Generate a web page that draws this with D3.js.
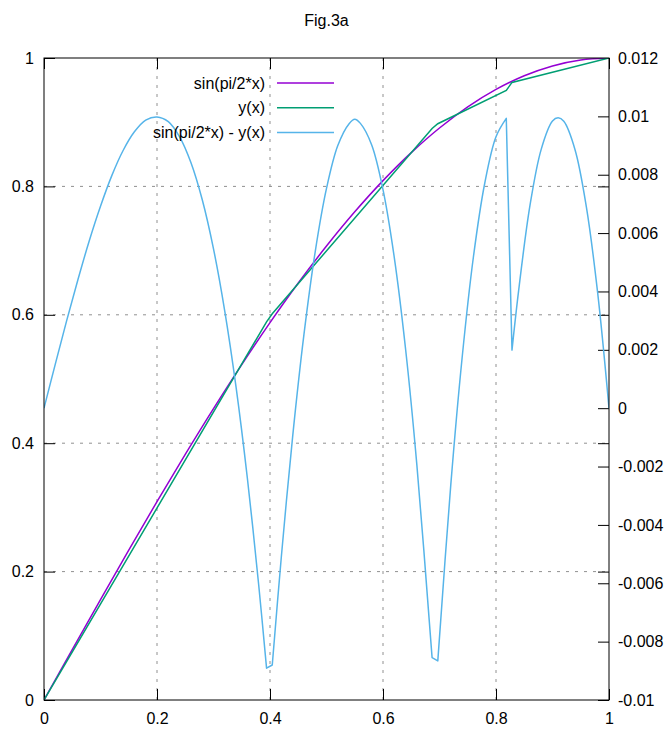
<meta charset="utf-8">

<!-- Load d3.js -->
<script src="https://d3js.org/d3.v7.min.js"></script>
<style>
  body { margin: 0; background: #fff; }
  text { font-family: "Liberation Sans", Arial, sans-serif; }
</style>

<div id="chart"></div>
<script>

// tick values
var xTicks  = [0, 0.2, 0.4, 0.6, 0.8, 1];
var yTicks  = [0, 0.2, 0.4, 0.6, 0.8, 1];
var y2Ticks = [-0.01, -0.008, -0.006, -0.004, -0.002, 0, 0.002, 0.004, 0.006, 0.008, 0.01, 0.012];

// sin(pi/2*x), left axis
var sinX = [0, 0.05, 0.1, 0.15, 0.2, 0.25, 0.3, 0.35, 0.4, 0.45, 0.5,
            0.55, 0.6, 0.65, 0.7, 0.75, 0.8, 0.85, 0.9, 0.95, 1];
var sinY = [0, 0.07846, 0.15643, 0.23345, 0.30902, 0.38268, 0.45399, 0.5225, 0.58779, 0.64945, 0.70711,
            0.76041, 0.80902, 0.85264, 0.89101, 0.92388, 0.95106, 0.97237, 0.98769, 0.99692, 1];

// y(x), left axis - the corners of the green polyline
var approxX = [0, 0.3939, 0.404, 0.6869, 0.697, 0.8182, 0.8283, 1];
var approxY = [0, 0.58894, 0.60171, 0.89012, 0.89759, 0.94956, 0.96197, 1];

// sin(pi/2*x) - y(x), right axis
var diffX = [0, 0.02, 0.04, 0.06, 0.08, 0.1, 0.12, 0.14, 0.16, 0.18, 0.2,
             0.22, 0.24, 0.26, 0.28, 0.3, 0.32, 0.34, 0.36, 0.38, 0.3939,
             0.404, 0.42, 0.44, 0.46, 0.48, 0.5, 0.52, 0.54, 0.55, 0.56,
             0.58, 0.6, 0.62, 0.64, 0.66, 0.6869,
             0.697, 0.72, 0.74, 0.76, 0.78, 0.8, 0.8182,
             0.8283, 0.84, 0.86, 0.88, 0.9, 0.91, 0.92, 0.94, 0.96, 0.98, 1];
var diffY = [0, 0.00151, 0.00299, 0.0044, 0.00573, 0.00692, 0.00797, 0.00883, 0.00947, 0.00987, 0.00998,
             0.00982, 0.0093, 0.00842, 0.00715, 0.00546, 0.00332, 0.00071, -0.00241, -0.00606, -0.00891,
             -0.0088, -0.00511, -0.00099, 0.00251, 0.00536, 0.00753, 0.009, 0.00975, 0.0099, 0.00976,
             0.00902, 0.00749, 0.00516, 0.00202, -0.00196, -0.00855,
             -0.00866, -0.00262, 0.00172, 0.00518, 0.0077, 0.0093, 0.00993,
             0.00199, 0.00402, 0.00693, 0.00887, 0.00984, 0.00995, 0.00983, 0.00885, 0.00689, 0.00394, 0];
// x where the difference curve has a sharp corner
var diffCorners = [0.3939, 0.404, 0.6869, 0.697, 0.8182, 0.8283];

var legendNames = ["sin(pi/2*x)", "y(x)", "sin(pi/2*x) - y(x)"];
var colors = ["#9400d3", "#009e73", "#56b4e9"];

// set the dimensions and margins of the graph
var margin = {top: 58, right: 59, bottom: 32, left: 44},
    width = 668 - margin.left - margin.right,
    height = 732 - margin.top - margin.bottom;

var root = d3.select("#chart")
  .append("svg")
    .attr("width", 668)
    .attr("height", 732);

var svg = root.append("g")
    .attr("transform", "translate(" + margin.left + "," + margin.top + ")");

var x = d3.scaleLinear().domain([0, 1]).range([0, width]);
var y = d3.scaleLinear().domain([0, 1]).range([height, 0]);
var y2 = d3.scaleLinear().domain([-0.01, 0.012]).range([height, 0]);

// grid
svg.append("g")
  .selectAll("line")
  .data(xTicks.slice(1, -1))
  .enter().append("line")
    .attr("x1", d => x(d)).attr("x2", d => x(d))
    .attr("y1", 0).attr("y2", height)
    .attr("stroke", "#909090").attr("stroke-dasharray", "3,6");
svg.append("g")
  .selectAll("line")
  .data(yTicks.slice(1, -1))
  .enter().append("line")
    .attr("y1", d => y(d)).attr("y2", d => y(d))
    .attr("x1", 0).attr("x2", width)
    .attr("stroke", "#909090").attr("stroke-dasharray", "3,6");

// axes, ticks point inward
function styleAxis(g, labels) {
  g.select(".domain").remove();
  g.selectAll(".tick line").attr("stroke", "#000");
  g.attr("font-size", 16).attr("font-family", null);
  g.selectAll("text").attr("fill", "#000");
  if (!labels) g.selectAll("text").remove();
}
var fmt = d => String(d);

svg.append("g")
    .attr("transform", "translate(0," + height + ")")
    .call(d3.axisBottom(x).tickValues(xTicks).tickFormat(fmt).tickSize(-11).tickSizeOuter(0).tickPadding(13))
    .call(g => styleAxis(g, true));
svg.append("g")
    .call(d3.axisTop(x).tickValues(xTicks).tickSize(-11).tickSizeOuter(0))
    .call(g => styleAxis(g, false));
svg.append("g")
    .call(d3.axisLeft(y).tickValues(yTicks).tickFormat(fmt).tickSize(-11).tickSizeOuter(0).tickPadding(10))
    .call(g => styleAxis(g, true));
svg.append("g")
    .attr("transform", "translate(" + width + ",0)")
    .call(d3.axisRight(y).tickValues(yTicks).tickSize(-11).tickSizeOuter(0))
    .call(g => styleAxis(g, false));
svg.append("g")
    .attr("transform", "translate(" + width + ",0)")
    .call(d3.axisRight(y2).tickValues(y2Ticks).tickFormat(fmt).tickSize(-11).tickSizeOuter(0).tickPadding(9))
    .call(g => styleAxis(g, true));

// curves
svg.append("clipPath").attr("id", "clip")
  .append("rect").attr("width", width).attr("height", height);
var plot = svg.append("g").attr("clip-path", "url(#clip)");

var sinData = sinX.map((d, i) => [d, sinY[i]]);
var approxData = approxX.map((d, i) => [d, approxY[i]]);
var diffData = diffX.map((d, i) => [d, diffY[i]]);

plot.append("path")
    .datum(sinData)
    .attr("fill", "none").attr("stroke", colors[0]).attr("stroke-width", 1.5)
    .attr("d", d3.line().x(d => x(d[0])).y(d => y(d[1])).curve(d3.curveCatmullRom));

plot.append("path")
    .datum(approxData)
    .attr("fill", "none").attr("stroke", colors[1]).attr("stroke-width", 1.5)
    .attr("d", d3.line().x(d => x(d[0])).y(d => y(d[1])));

// smooth arcs between the corners, joined into one path
var diffLine = d3.line().x(d => x(d[0])).y(d => y2(d[1])).curve(d3.curveCatmullRom);
var runs = [], run = [];
diffData.forEach(function(d) {
  run.push(d);
  if (diffCorners.indexOf(d[0]) >= 0) { runs.push(run); run = [d]; }
});
runs.push(run);
var dStr = runs.map((r, i) => i === 0 ? diffLine(r) : diffLine(r).replace(/^M/, "L")).join("");
plot.append("path")
    .attr("fill", "none").attr("stroke", colors[2]).attr("stroke-width", 1.5)
    .attr("stroke-linejoin", "round")
    .attr("d", dStr);

// border
svg.append("rect")
    .attr("width", width).attr("height", height)
    .attr("fill", "none").attr("stroke", "#000").attr("stroke-width", 1);

// legend
var legend = root.append("g");
legendNames.forEach(function(name, i) {
  var ly = 83 + i * 24.7;
  legend.append("text")
      .attr("x", 265).attr("y", ly).attr("dy", "0.35em")
      .attr("text-anchor", "end").attr("font-size", 16)
      .text(name);
  legend.append("line")
      .attr("x1", 277).attr("x2", 334).attr("y1", ly).attr("y2", ly)
      .attr("stroke", colors[i]).attr("stroke-width", 1.5);
});

// title
root.append("text")
    .attr("x", margin.left + width / 2).attr("y", 26)
    .attr("text-anchor", "middle").attr("font-size", 16)
    .text("Fig.3a");

</script>
